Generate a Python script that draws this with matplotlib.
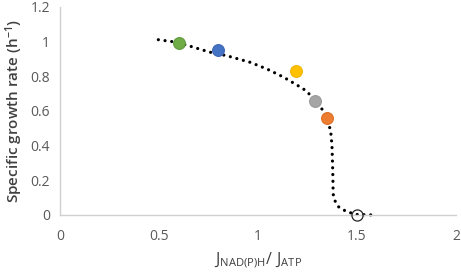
import matplotlib.pyplot as plt
from matplotlib.ticker import FuncFormatter

# dotted model curve
curve_x = [0.497, 0.594, 0.648, 0.758, 0.842, 0.96, 1.044, 1.128, 1.229, 1.296,
           1.338, 1.367, 1.374, 1.378, 1.38, 1.39, 1.406, 1.448, 1.498, 1.59]
curve_y = [1.011, 0.996, 0.977, 0.939, 0.919, 0.881, 0.843, 0.796, 0.728, 0.661,
           0.584, 0.489, 0.40, 0.25, 0.12, 0.08, 0.048, 0.019, 0.003, 0.0]

# measured points
pts_x = [0.6, 0.8, 1.19, 1.29, 1.35]
pts_y = [0.99, 0.95, 0.83, 0.66, 0.56]
pts_face = ['#70AD47', '#4472C4', '#FFC000', '#A5A5A5', '#ED7D31']
pts_edge = ['#5E9A3A', '#3A66B4', '#F2B600', '#999999', '#DE6E25']
open_x = [1.5]
open_y = [0.0]

plt.rcParams['font.family'] = ['Open Sans', 'DejaVu Sans']
plt.rcParams['mathtext.default'] = 'regular'

fig = plt.figure(figsize=(4.61, 2.73), dpi=100)
ax = fig.add_axes([0.130, 0.2125, 0.859, 0.762])

ax.plot(curve_x, curve_y, color='black', linewidth=2.3,
        linestyle=(0, (0.01, 2.1)), dash_capstyle='round', zorder=2,
        clip_on=False)
for x, y, fc, ec in zip(pts_x, pts_y, pts_face, pts_edge):
    ax.plot([x], [y], 'o', markersize=8.5, markerfacecolor=fc,
            markeredgecolor=ec, markeredgewidth=0.8, zorder=3)
ax.plot(open_x, open_y, 'o', markersize=8, markerfacecolor='none',
        markeredgecolor='#222222', markeredgewidth=0.9, zorder=3, clip_on=False)

ax.set_xlim(0, 2)
ax.set_ylim(0, 1.2)
ax.set_xticks([0, 0.5, 1, 1.5, 2])
ax.set_yticks([0, 0.2, 0.4, 0.6, 0.8, 1.0, 1.2])
fmt = FuncFormatter(lambda v, p: '%g' % round(v, 2))
ax.xaxis.set_major_formatter(fmt)
ax.yaxis.set_major_formatter(fmt)
ax.tick_params(length=0, labelsize=10, colors='#595959')
ax.tick_params(axis='x', pad=10)
ax.tick_params(axis='y', pad=7)

for s in ['top', 'right']:
    ax.spines[s].set_visible(False)
for s in ['left', 'bottom']:
    ax.spines[s].set_color('#D0D0D0')
    ax.spines[s].set_linewidth(1)

ax.set_xlabel(r'$J_{NAD(P)H}/\ J_{ATP}$', fontsize=11.5, color='#404040', labelpad=5)
ax.set_ylabel('Specific growth rate (h$^{-1}$)', fontsize=11, color='#404040',
              fontweight='semibold', labelpad=4)

fig.savefig('out.png', dpi=100)
